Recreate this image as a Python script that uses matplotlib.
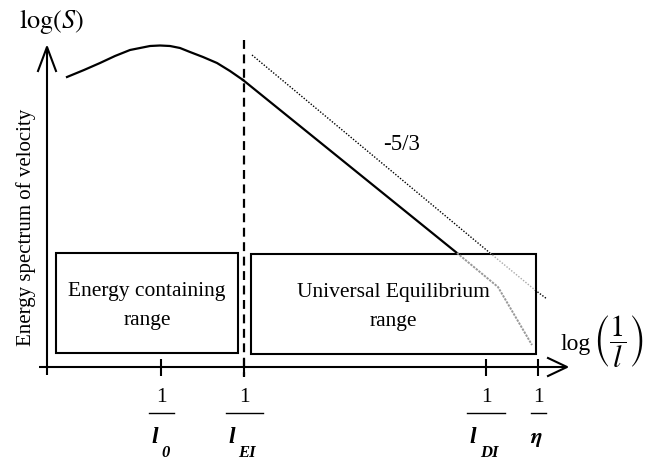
import matplotlib
matplotlib.use("Agg")
import matplotlib.pyplot as plt
from matplotlib.patches import Rectangle

plt.rcParams['font.family'] = ['Liberation Serif', 'DejaVu Serif']
plt.rcParams['mathtext.fontset'] = 'stix'

# ---- schematic data (drawing units: x to the right, y downwards) ----
# energy-containing part of the spectrum (solid curve)
curve_x = [67, 84, 100, 115, 130, 140, 150, 160, 170, 180, 190, 203, 217, 230, 243]
curve_y = [77, 70, 63, 56, 50, 48, 46, 45.5, 46, 48, 52, 57, 63, 71, 80]
# inertial range: straight -5/3 line
inertial_x = [243, 457]
inertial_y = [80, 253]
# dissipation range (grey)
dissip_x = [457, 498, 532]
dissip_y = [253, 287, 345]
# reference -5/3 slope (dotted)
ref_x = [252, 490]
ref_y = [55, 253]
ref_in_x = [490, 535]
ref_in_y = [253, 290]
ref_out_x = [535, 547]
ref_out_y = [290, 299]

# tick positions and labels
tick_x = [161, 244, 486, 538]
tick_sub = ['0', 'EI', 'DI', None]
frac_half = [12.5, 18.5, 19, 7.5]

# range boxes
boxes = [(56, 253, 182, 100, 'Energy containing\nrange'),
         (251, 254, 285, 100, 'Universal Equilibrium\nrange')]

fig = plt.figure(figsize=(6.55, 4.61), dpi=100)
ax = fig.add_axes([0, 0, 1, 1])
ax.set_xlim(0, 655)
ax.set_ylim(461, 0)
ax.axis('off')

lw = 1.5
# axes lines
ax.plot([47, 47], [375, 47], color='black', lw=lw, solid_capstyle='butt')
ax.plot([38, 47, 56], [71, 47, 71], color='black', lw=lw)
ax.plot([39, 567], [367, 367], color='black', lw=lw, solid_capstyle='butt')
ax.plot([548, 567, 548], [358, 367, 376], color='black', lw=lw)

# ticks
for tx in tick_x:
    ax.plot([tx, tx], [359, 376], color='black', lw=lw, solid_capstyle='butt')

# dashed separator
ax.plot([244, 244], [40, 377], color='black', lw=1.6, ls=(0, (4, 2.5)))

# boxes
for bx, by, bw, bh, label in boxes:
    ax.add_patch(Rectangle((bx, by), bw, bh, fill=False, ec='black', lw=1.5))
    ax.text(bx + bw / 2, by + bh / 2 + 3, label, ha='center', va='center',
            fontsize=15.5, linespacing=1.75)

# spectrum
ax.plot(curve_x, curve_y, color='black', lw=1.6)
ax.plot(inertial_x, inertial_y, color='black', lw=1.6)
ax.plot(dissip_x, dissip_y, color='#999999', lw=1.4, ls=(0, (1.2, 0.6)))
ax.plot(ref_x, ref_y, color='black', lw=1.0, ls=(0, (1, 1.2)))
ax.plot(ref_in_x, ref_in_y, color='#aaaaaa', lw=1.0, ls=(0, (1, 1.2)))
ax.plot(ref_out_x, ref_out_y, color='black', lw=1.0, ls=(0, (1, 1.2)))

ax.text(402, 144, '-5/3', ha='center', va='center', fontsize=16.5)

# axis labels
ax.text(52, 21, r'$\log\!\left(S\right)$', ha='center', va='center', fontsize=19)
ax.text(576, 344, 'log', ha='center', va='center', fontsize=17)
ax.text(618, 342, r'$\left(\dfrac{1}{l}\right)$', ha='center', va='center', fontsize=22)
ax.text(26, 227, 'Energy spectrum of velocity', ha='center', va='center',
        rotation=90, fontsize=15)

# tick labels (fractions 1/l)
for tx, sub, hw in zip(tick_x, tick_sub, frac_half):
    ax.text(tx, 397, '1', ha='center', va='center', fontsize=15.5)
    ax.plot([tx - hw, tx + hw], [413, 413], color='black', lw=1.0)
    if sub is None:
        ax.text(tx - 2, 439, r'$\boldsymbol{\eta}$', ha='center', va='center', fontsize=16)
    else:
        lx = tx - hw + 6
        ax.text(lx, 437, 'l', ha='center', va='center', fontsize=17,
                fontweight='bold', fontstyle='italic')
        ax.text(lx + 7, 453, sub, ha='left', va='center', fontsize=12,
                fontweight='bold', fontstyle='italic')

fig.savefig('out.png', dpi=100)
